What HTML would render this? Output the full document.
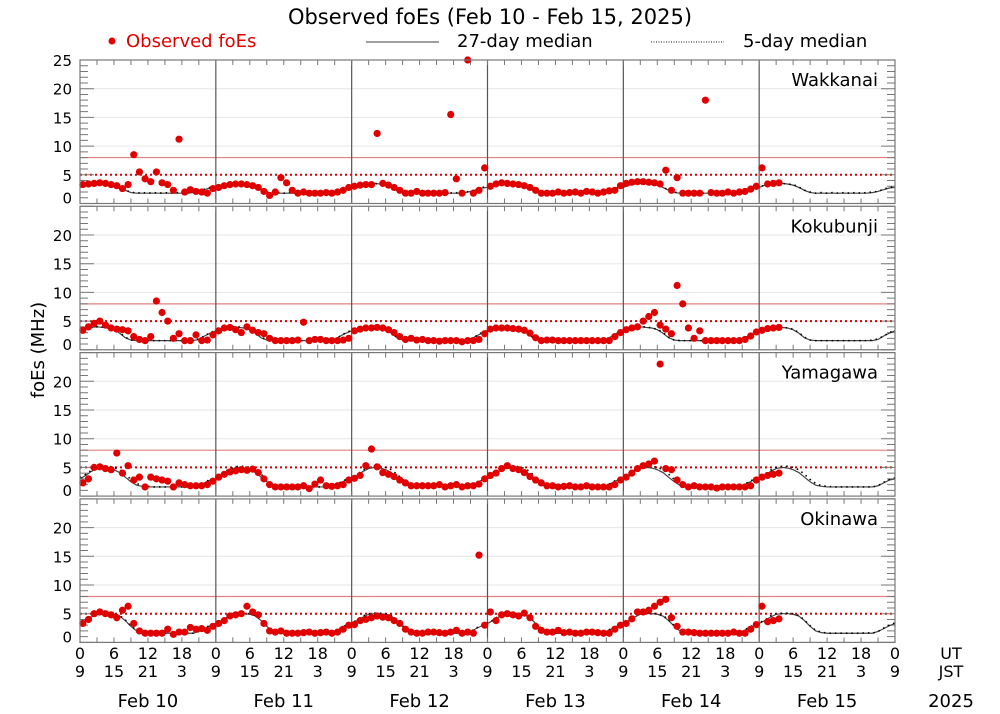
<!DOCTYPE html>
<html><head><meta charset="utf-8"><style>
html,body{margin:0;padding:0;background:#fff;}
svg{display:block;font-family:"DejaVu Sans","Liberation Sans",sans-serif;}
</style></head><body>
<svg id="chart" width="1000" height="714" viewBox="0 0 1000 714" xmlns="http://www.w3.org/2000/svg">
<text x="490" y="24" font-size="21" text-anchor="middle" fill="#000">Observed foEs (Feb 10 - Feb 15, 2025)</text>
<g>
<circle cx="112" cy="41" r="3.5" fill="#e00000"/>
<text x="126" y="47" font-size="18" fill="#e00000">Observed foEs</text>
<line x1="366" y1="42" x2="439" y2="42" stroke="#666" stroke-width="1.3"/>
<text x="457" y="47" font-size="18" fill="#000">27-day median</text>
<line x1="651" y1="42" x2="724" y2="42" stroke="#444" stroke-width="1.2" stroke-dasharray="1,1.5"/>
<text x="743" y="47" font-size="18" fill="#000">5-day median</text>
</g>
<text transform="translate(44,350) rotate(-90)" font-size="18" text-anchor="middle" fill="#000">foEs (MHz)</text>
<g id="panels"></g>
<g id="xaxis"></g>
</svg>
<script>
const stations = ["Wakkanai","Kokubunji","Yamagawa","Okinawa"];
const dates = ["Feb 10","Feb 11","Feb 12","Feb 13","Feb 14","Feb 15"];
const utTicks = ["0","6","12","18"];
const jstTicks = ["9","15","21","3"];
const yTickVals = [0,5,10,15,20,25];
const thresholdSolid = 8;
const thresholdDotted = 5;

const median27Wakkanai = [2.8,3.2,3.4,3.5,3.5,3.4,3.2,2.8,2.3,1.9,1.8,1.8,1.8,1.8,1.8,1.8,1.8,1.8,1.8,1.8,1.9,2.1,2.4,2.7];
const median5Wakkanai  = [2.9,3.2,3.4,3.5,3.5,3.4,3.3,2.9,2.3,2.0,1.8,1.9,1.8,1.9,1.8,1.9,1.8,1.9,1.8,1.9,2.0,2.1,2.5,2.8];
const median27Kokubunji = [3.3,3.7,3.9,4.0,3.9,3.8,3.5,2.9,2.1,1.7,1.6,1.6,1.6,1.6,1.6,1.6,1.6,1.6,1.6,1.6,1.6,1.8,2.4,2.9];
const median5Kokubunji  = [3.4,3.7,3.9,4.0,4.0,3.8,3.6,3.0,2.2,1.7,1.6,1.6,1.6,1.6,1.6,1.6,1.6,1.6,1.6,1.6,1.7,1.9,2.4,3.0];
const median27Yamagawa = [3.0,3.6,4.3,4.8,5.0,4.9,4.6,4.1,3.3,2.5,1.9,1.7,1.6,1.6,1.6,1.6,1.6,1.6,1.6,1.6,1.6,1.8,2.3,2.8];
const median5Yamagawa  = [3.2,3.8,4.5,5.0,5.2,5.2,5.0,4.6,3.8,2.9,2.2,1.8,1.7,1.6,1.6,1.6,1.6,1.6,1.6,1.6,1.6,1.8,2.4,2.9];
const median27Okinawa = [3.3,3.8,4.4,4.9,5.0,5.0,4.9,4.6,3.8,2.8,2.0,1.7,1.6,1.6,1.6,1.6,1.6,1.6,1.6,1.6,1.6,1.9,2.4,2.9];
const median5Okinawa  = [3.4,3.9,4.6,5.0,5.1,5.1,5.0,4.7,3.9,2.9,2.1,1.8,1.6,1.6,1.6,1.6,1.6,1.6,1.6,1.7,1.6,1.9,2.5,3.0];

const obsWakkanai = [
3.3,3.4,3.5,3.6,3.5,3.3,3.1,2.6,3.3,8.5,5.5,4.3,3.8,5.5,3.6,3.3,2.3,11.2,2.0,2.4,2.1,2.0,1.8,2.6,
2.8,3.1,3.3,3.4,3.4,3.3,3.1,2.8,2.1,1.4,2.0,4.5,3.6,2.3,1.8,2.0,1.8,1.8,1.8,1.9,1.8,2.0,2.3,2.8,
3.0,3.2,3.3,3.3,12.2,3.5,3.2,2.8,2.3,1.8,1.8,2.1,1.8,1.8,1.8,1.8,1.9,15.5,4.3,1.8,25,1.8,2.3,6.2,
3.0,3.4,3.6,3.5,3.4,3.3,3.1,2.8,2.3,1.8,1.8,1.8,2.0,1.8,1.9,2.0,1.8,2.1,2.0,1.8,2.0,2.2,2.3,3.1,
3.5,3.7,3.8,3.8,3.7,3.6,3.4,5.8,2.3,4.5,1.8,1.8,1.8,1.8,18.0,1.9,1.8,1.8,2.0,1.8,2.0,2.1,2.5,3.0,
6.2,3.4,3.5,3.6];
const obsKokubunji = [
3.4,4.0,4.6,5.0,4.3,3.8,3.6,3.5,3.3,2.3,1.8,1.6,2.3,8.5,6.5,5.0,2.0,2.8,1.6,1.6,2.6,1.6,1.7,2.6,
3.3,3.8,3.9,3.5,3.0,4.0,3.4,3.0,2.8,2.0,1.6,1.6,1.6,1.6,1.7,4.8,1.6,1.8,1.8,1.6,1.6,1.6,1.7,2.0,
3.3,3.6,3.8,3.8,3.9,3.8,3.5,3.0,2.3,1.8,2.0,1.7,1.8,1.6,1.6,1.5,1.6,1.6,1.6,1.4,1.6,1.6,1.8,2.8,
3.6,3.8,3.8,3.8,3.7,3.6,3.4,2.9,2.1,1.6,1.7,1.7,1.6,1.6,1.6,1.6,1.6,1.6,1.6,1.6,1.6,1.6,2.3,3.0,
3.5,3.8,4.0,5.0,5.8,6.5,4.3,3.6,2.8,11.2,8.0,3.8,2.0,3.3,1.6,1.6,1.6,1.6,1.6,1.6,1.6,1.8,2.4,3.1,
3.4,3.7,3.8,3.9];
const obsYamagawa = [
2.3,3.0,5.0,5.1,4.8,4.6,7.5,4.0,5.3,2.8,3.3,1.6,3.3,3.0,2.8,2.6,1.6,2.3,2.0,1.8,1.8,1.8,2.0,2.6,
3.3,3.8,4.2,4.4,4.6,4.5,4.7,4.1,3.0,2.0,1.6,1.6,1.6,1.6,1.6,1.8,1.3,2.1,2.8,1.8,1.7,1.8,2.0,2.8,
3.1,3.6,5.3,8.2,5.1,4.1,3.8,3.4,2.8,2.3,1.8,1.8,1.8,1.8,1.8,2.0,1.6,1.8,2.0,1.6,1.8,1.8,2.1,3.0,
3.6,4.0,4.8,5.3,4.8,4.6,4.1,3.4,2.8,2.3,1.8,1.8,1.6,1.7,1.8,1.6,1.6,1.8,1.6,1.6,1.6,1.6,2.0,2.8,
3.3,4.0,4.8,5.3,5.6,6.1,23.0,4.8,4.6,2.8,2.0,1.6,1.8,1.6,1.6,1.6,1.4,1.6,1.6,1.6,1.6,1.6,1.8,2.8,
3.3,3.6,3.8,4.0];
const obsOkinawa = [
3.3,4.0,5.0,5.3,5.0,4.8,4.3,5.6,6.3,3.3,2.0,1.6,1.6,1.6,1.6,2.3,1.4,1.8,1.8,2.6,2.3,2.4,2.1,2.8,
3.3,3.8,4.6,4.8,5.0,6.3,5.3,4.8,3.3,2.0,1.8,2.0,1.6,1.6,1.6,1.7,1.8,1.6,1.7,1.8,1.6,1.8,2.3,3.0,
3.1,3.8,4.0,4.3,4.6,4.4,4.3,3.8,3.3,2.3,1.8,1.6,1.6,1.8,1.8,1.7,1.6,1.8,2.1,1.6,1.8,1.6,15.2,3.0,
5.3,3.8,4.8,5.0,4.8,4.6,5.1,4.3,2.8,2.1,1.8,1.8,2.1,1.7,1.8,1.6,1.6,1.8,1.8,1.7,1.6,1.6,2.3,3.0,
3.3,4.1,5.3,5.3,5.6,6.3,7.0,7.5,4.3,2.8,1.8,1.8,1.7,1.6,1.6,1.6,1.6,1.6,1.6,1.8,1.6,1.6,2.3,3.1,
6.3,3.6,3.8,4.1];

const obsAll = [obsWakkanai,obsKokubunji,obsYamagawa,obsOkinawa];
const med27All = [median27Wakkanai,median27Kokubunji,median27Yamagawa,median27Okinawa];
const med5All = [median5Wakkanai,median5Kokubunji,median5Yamagawa,median5Okinawa];

const NS="http://www.w3.org/2000/svg";
const X0=80, X1=895, HOURS=144;
const PTOP=60, PH=143.5, PPITCH=146.3, YMAX=25;
function xh(h){return X0+(X1-X0)*h/HOURS;}
function yv(p,v){const b=PTOP+p*PPITCH+PH; return b-PH*Math.min(v,YMAX)/YMAX;}
function mk(tag,attrs,parent){const e=document.createElementNS(NS,tag);for(const k in attrs)e.setAttribute(k,attrs[k]);parent.appendChild(e);return e;}
const panels=document.getElementById('panels');

stations.forEach((st,p)=>{
  const g=mk('g',{},panels);
  
  
  const top=PTOP+p*PPITCH, bot=top+PH;
  [10,15,20].forEach(v=>{const l=mk('line',{x1:X0,x2:X1,y1:yv(p,v),y2:yv(p,v),stroke:'#e6e6e6','stroke-width':1},g);
    
    });
  const ts=mk('line',{x1:X0,x2:X1,y1:yv(p,thresholdSolid),y2:yv(p,thresholdSolid),stroke:'#e08080','stroke-width':1.2},g);
  
  
  const td=mk('line',{x1:X0,x2:X1,y1:yv(p,thresholdDotted),y2:yv(p,thresholdDotted),stroke:'#d00000','stroke-width':2,'stroke-dasharray':'2,3'},g);
  
  
  for(let d=1;d<6;d++){const l=mk('line',{x1:xh(d*24),x2:xh(d*24),y1:top,y2:bot,stroke:'#555','stroke-width':1.2},g);
    
    }
  let tk='';
  for(let v=0;v<=25;v++){const y=yv(p,v);const L=(v%5===0)?14:8;
    tk+=`M${X0},${y}h${L}M${X1},${y}h${-L}`;}
  for(let h=3;h<HOURS;h+=3){const x=xh(h);tk+=`M${x},${top}v5M${x},${bot}v-5`;}
  const tp=mk('path',{d:tk,stroke:'#777','stroke-width':1,fill:'none'},g);
  
  
  let d27='',d5='';
  for(let h=0;h<=HOURS;h++){const v=med27All[p][h%24];d27+=(h?'L':'M')+xh(h)+','+yv(p,v);}
  for(let h=0;h<=HOURS;h++){const v=med5All[p][h%24];d5+=(h?'L':'M')+xh(h)+','+yv(p,v);}
  const l27=mk('path',{d:d27,stroke:'#444','stroke-width':1.2,fill:'none'},g);
  
  
  const l5=mk('path',{d:d5,stroke:'#000','stroke-width':1.6,fill:'none','stroke-dasharray':'1.5,4'},g);
  
  
  obsAll[p].forEach((v,h)=>{const c=mk('circle',{cx:xh(h+0.5),cy:yv(p,v),r:3.6,fill:'#e00000'},g);
    
    });
  const fr=mk('rect',{x:X0,y:top,width:X1-X0,height:PH,fill:'none',stroke:'#777','stroke-width':1.2},g);
  
  
  yTickVals.forEach(v=>{ if(v===25&&p>0) return;
    let y=yv(p,v)+6; if(v===0) y-=6;
    const t=mk('text',{x:X0-8,y:y,'font-size':15,'text-anchor':'end',fill:'#000'},g);
    
    
    t.textContent=v;});
  const sn=mk('text',{x:878,y:top+26,'font-size':18,'text-anchor':'end',fill:'#000'},g);
  
  
  sn.textContent=st;
});

const xa=document.getElementById('xaxis');
for(let d=0;d<=6;d++){
  for(let k=0;k<4;k++){
    if(d===6&&k>0) break;
    const x=xh(d*24+k*6);
    const u=mk('text',{x:x,y:659,'font-size':16,'text-anchor':'middle',fill:'#000'},xa);
    
    
    u.textContent=utTicks[k];
    const j=mk('text',{x:x,y:677,'font-size':16,'text-anchor':'middle',fill:'#000'},xa);
    
    
    j.textContent=jstTicks[k];
  }
}
dates.forEach((dt,d)=>{const t=mk('text',{x:xh(d*24+12),y:707,'font-size':18,'text-anchor':'middle',fill:'#000'},xa);
  
  
  t.textContent=dt;});
[['UT',659,16],['JST',677,16],['2025',707,18]].forEach(a=>{const t=mk('text',{x:951,y:a[1],'font-size':a[2],'text-anchor':'middle',fill:'#000'},xa);
  
  
  t.textContent=a[0];});
</script>
</body></html>
